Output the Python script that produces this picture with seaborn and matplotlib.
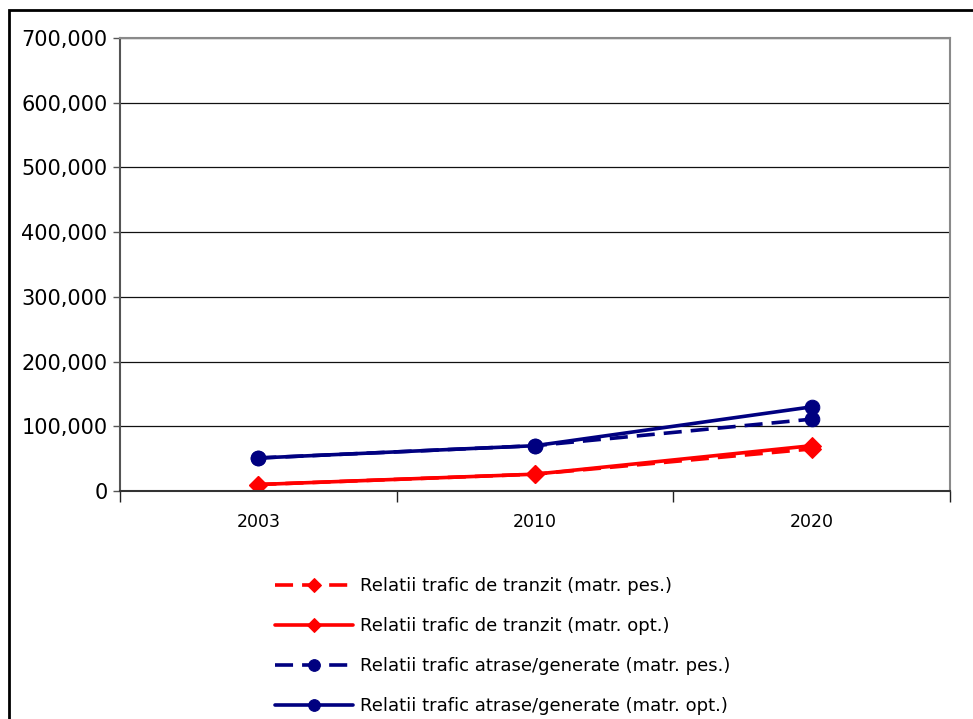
import matplotlib
matplotlib.use("Agg")
import matplotlib.pyplot as plt
import matplotlib.ticker as mticker
import pandas as pd
import seaborn as sns

years = ["2003", "2010", "2020"]
tranzit_pes = [10000, 26000, 65000]
tranzit_opt = [10000, 26000, 70000]
atrase_pes = [51000, 70000, 111000]
atrase_opt = [51000, 70000, 130000]
series_names = [
    "Relatii trafic de tranzit (matr. pes.)",
    "Relatii trafic de tranzit (matr. opt.)",
    "Relatii trafic atrase/generate (matr. pes.)",
    "Relatii trafic atrase/generate (matr. opt.)",
]

sns.set_style("white")
plt.rcParams["font.family"] = ["DejaVu Sans"]
plt.rcParams["text.color"] = "black"
plt.rcParams["xtick.color"] = "black"
plt.rcParams["ytick.color"] = "black"

rows = []
for name, vals in zip(series_names, [tranzit_pes, tranzit_opt, atrase_pes, atrase_opt]):
    for i, v in enumerate(vals):
        rows.append({"pos": i, "value": v, "serie": name})
df = pd.DataFrame(rows)

fig = plt.figure(figsize=(9.73, 7.19), dpi=100)
ax = fig.add_axes([120 / 973, 1 - 491 / 719, 830 / 973, 453 / 719])

styles = {
    series_names[0]: ("#ff0000", "D", (5, 2.5)),
    series_names[1]: ("#ff0000", "D", None),
    series_names[2]: ("#000080", "o", (5, 2.5)),
    series_names[3]: ("#000080", "o", None),
}
for name in series_names:
    color, marker, dash = styles[name]
    sub = df[df["serie"] == name]
    line_kw = dict(color=color, marker=marker, markersize=9 if marker == "D" else 10.5,
                   markeredgecolor=color, linewidth=2.6, label=name, ax=ax)
    sns.lineplot(data=sub, x="pos", y="value", **line_kw)
    if dash is not None:
        ax.lines[-1].set_dashes(dash)

ax.set_xlim(-0.5, 2.5)
ax.set_ylim(0, 700000)
ax.set_xticks(range(len(years)))
ax.set_xticklabels(years)
ax.xaxis.set_minor_locator(mticker.FixedLocator([-0.5, 0.5, 1.5, 2.5]))
ax.tick_params(axis="x", which="major", bottom=True, length=0, labelsize=12.5, pad=16,
               labelcolor="black")
ax.tick_params(axis="x", which="minor", bottom=True, length=8, width=1, color="#222222",
               direction="out")
ax.set_yticks(range(0, 700001, 100000))
ax.yaxis.set_major_formatter(mticker.FuncFormatter(lambda v, p: f"{int(v):,}"))
ax.tick_params(axis="y", left=True, length=5, width=1, color="#555555", labelsize=15, pad=4,
               direction="out", labelcolor="black")
ax.yaxis.grid(True, color="#111111", linewidth=0.9)
ax.set_axisbelow(True)
ax.set_xlabel("")
ax.set_ylabel("")

for side in ["top", "right"]:
    ax.spines[side].set_color("#8a8a8a")
    ax.spines[side].set_linewidth(1.5)
ax.spines["left"].set_color("#555555")
ax.spines["left"].set_linewidth(1.5)
ax.spines["bottom"].set_color("#333333")
ax.spines["bottom"].set_linewidth(1.5)

handles, labels = ax.get_legend_handles_labels()
if ax.legend_:
    ax.legend_.remove()
fig.legend(handles, labels, loc="upper left", bbox_to_anchor=(268 / 973, 1 - 570 / 719),
           frameon=False, fontsize=13, handlelength=4.3, handletextpad=0.4,
           labelspacing=1.22, borderaxespad=0, markerscale=0.8, labelcolor="black")

fig.patches.append(plt.Rectangle((9 / 973, -0.05), 2, 1 - 10 / 719 + 0.05,
                                 transform=fig.transFigure, fill=False,
                                 edgecolor="black", linewidth=2))

fig.savefig("out.png", dpi=100)
